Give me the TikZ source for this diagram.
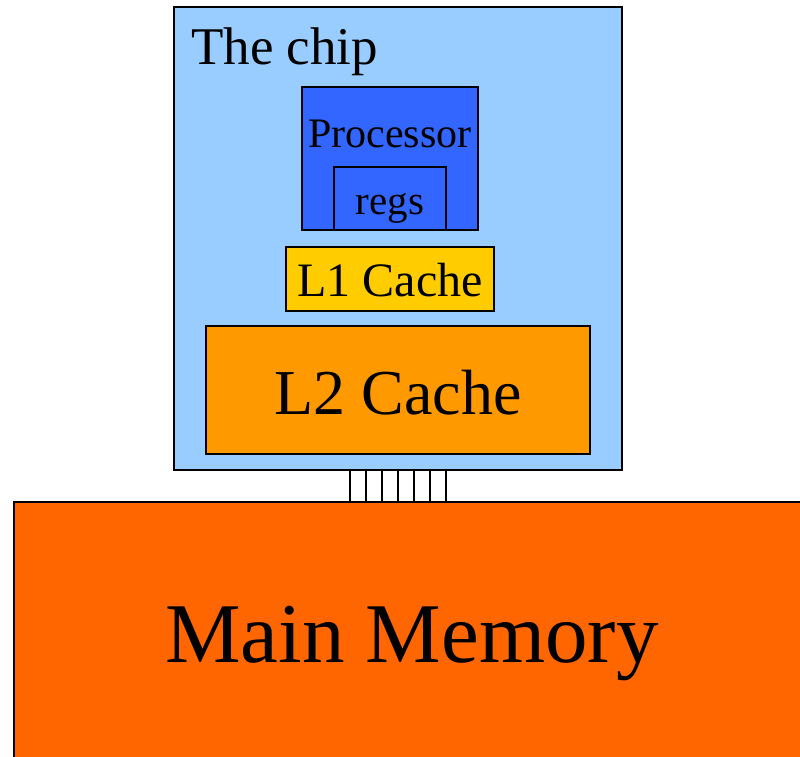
\documentclass[tikz,border=0pt]{standalone}
\usepackage{fontspec}
\setmainfont{Liberation Serif}
\usetikzlibrary{positioning}

\definecolor{chipblue}{HTML}{99CCFF}
\definecolor{procblue}{HTML}{3366FF}
\definecolor{lonecol}{HTML}{FFCC00}
\definecolor{ltwocol}{HTML}{FF9900}
\definecolor{memcol}{HTML}{FF6600}

\begin{document}
\begin{tikzpicture}[
		x=1pt, y=-1pt,
		box/.style={
			draw,
			rectangle,
			line width=2pt,
			inner sep=0pt
		},
		txt/.style={
			inner sep=0pt,
			anchor=base
		}
	]
	\useasboundingbox (0,0) rectangle (800,756);
	\clip (0,0) rectangle (800,756);
	
	\node[box, fill=memcol, minimum width=820pt, minimum height=290pt] (mem) at (424,647) {};
	\node[box, fill=chipblue, minimum width=448pt, minimum height=463pt] (chip) at (398,238.5) {};
	\node[box, fill=procblue, minimum width=176pt, minimum height=143pt] (proc) at (390,158.5) {};
	\node[box, fill=procblue, minimum width=112pt, minimum height=63pt] (regs) at (390,198.5) {};
	\node[box, fill=lonecol, minimum width=208pt, minimum height=64pt] (lone) at (390,279) {};
	\node[box, fill=ltwocol, minimum width=384pt, minimum height=128pt] (ltwo) at (398,390) {};
	
	% labels
	\node[txt, anchor=base west] (chiplbl) at (191,64) {\fontsize{53}{53}\selectfont The chip};
	\node[txt] (proclbl) at (390,147) {\fontsize{42}{42}\selectfont Processor};
	\node[txt] (regslbl) at (390,214) {\fontsize{41}{41}\selectfont regs};
	\node[txt] (lonelbl) at (390,296) {\fontsize{48}{48}\selectfont L1 Cache};
	\node[txt] (ltwolbl) at (398,414) {\fontsize{64}{64}\selectfont L2 Cache};
	\node[txt] (memlbl) at (412,662) {\fontsize{85}{85}\selectfont Main Memory};
	
	% bus wires
	\foreach \x in {-48,-32,...,48}
		\draw[line width=2pt] ([xshift=\x pt]chip.south) -- ([xshift=\x pt]chip.south |- mem.north);
\end{tikzpicture}
\end{document}
